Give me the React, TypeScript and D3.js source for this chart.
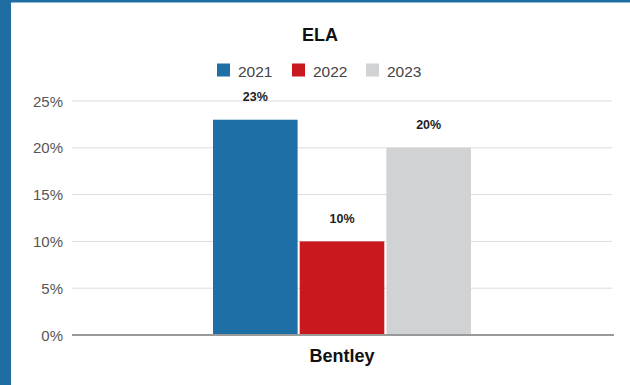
import React from "react";
import * as d3 from "d3";

const categories = ["Bentley"];
const years = ["2021", "2022", "2023"];
const values2021 = [23];
const values2022 = [10];
const values2023 = [20];
const yTicks = [0, 5, 10, 15, 20, 25];
const title = "ELA";

const colors = ["#1d6fa5", "#c9191f", "#d0d2d3"];
const FONT = "'Liberation Sans', Arial, sans-serif";

export default function App() {
  const W = 630, H = 385;
  const left = 72, right = 612, top = 101, bottom = 335;
  const series = [values2021, values2022, values2023];

  const y = d3.scaleLinear().domain([0, 25]).range([bottom, top]);
  const x0 = d3.scaleBand<string>().domain(categories).range([left, right]).paddingInner(0).paddingOuter(0.5465);
  const x1 = d3.scaleBand<string>().domain(years).range([0, x0.bandwidth()]).paddingInner(0.024).paddingOuter(0);

  const legendX = [217, 292, 366];

  return (
    <div style={{ position: "fixed", left: 0, top: 0 }}>
      <svg width={W} height={H} style={{ display: "block", fontFamily: FONT }}>
        <rect x={0} y={0} width={W} height={H} fill="#ffffff" />
        <rect x={0} y={0} width={11} height={H} fill="#1f6ea3" />
        <rect x={0} y={0} width={W} height={2.5} fill="#1f6ea3" />

        <text x={320} y={41} textAnchor="middle" fontSize={18} fontWeight="bold" fill="#111">{title}</text>

        {years.map((yr, i) => (
          <g key={yr}>
            <rect x={legendX[i]} y={63.5} width={13} height={13} fill={colors[i]} />
            <text x={legendX[i] + 21} y={76.5} fontSize={15.5} fill="#444">{yr}</text>
          </g>
        ))}

        {yTicks.map((t) => (
          <g key={t}>
            {t !== 0 && (
              <line x1={left} x2={right} y1={y(t)} y2={y(t)} stroke="#dcdcdc" strokeWidth={1} />
            )}
            <text x={63} y={y(t) + 5.5} textAnchor="end" fontSize={15} fill="#555">{t}%</text>
          </g>
        ))}

        {categories.map((c, ci) => (
          <g key={c} transform={`translate(${x0(c)},0)`}>
            {years.map((yr, si) => {
              const v = series[si][ci];
              const bx = x1(yr)!;
              return (
                <g key={yr}>
                  <rect x={bx} y={y(v)} width={x1.bandwidth()} height={y(0) - y(v)} fill={colors[si]} />
                  <text x={bx + x1.bandwidth() / 2} y={y(v) - 18.5} textAnchor="middle" fontSize={12.5} fontWeight="bold" fill="#222">{v}%</text>
                </g>
              );
            })}
          </g>
        ))}

        <line x1={left} x2={right + 2} y1={y(0)} y2={y(0)} stroke="#9a9a9a" strokeWidth={2} />

        {categories.map((c) => (
          <text key={c} x={x0(c)! + x0.bandwidth() / 2} y={361.5} textAnchor="middle" fontSize={18} fontWeight="bold" fill="#111">{c}</text>
        ))}
      </svg>
    </div>
  );
}
